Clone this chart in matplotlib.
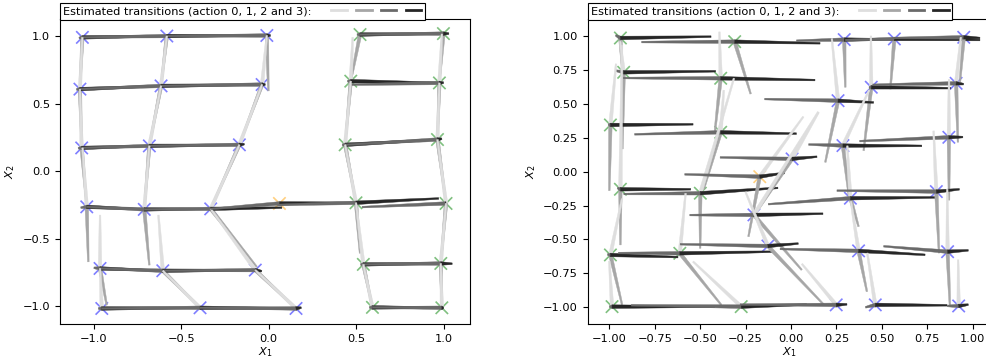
import matplotlib
matplotlib.use("Agg")
import matplotlib.pyplot as plt
from matplotlib.lines import Line2D
from matplotlib.legend_handler import HandlerTuple
from matplotlib.patches import Polygon
import numpy as np

plt.rcParams['font.family'] = ['DejaVu Sans']
plt.rcParams['font.size'] = 8.2

# ---------------- data: left panel ----------------
left_x = [-1.066, -0.583, -0.011, -1.080, -0.616, -0.038, -1.070, -0.683, -0.168,
          -1.041, -0.712, -0.332, -0.965, -0.606, -0.077, -0.955, -0.393, 0.156,
          0.061,
          0.522, 0.999, 0.469, 0.976, 0.437, 0.965, 0.499, 1.014, 0.541, 0.984, 0.593, 0.990]
left_y = [0.990, 1.000, 1.004, 0.607, 0.631, 0.641, 0.172, 0.187, 0.195,
          -0.264, -0.283, -0.279, -0.720, -0.737, -0.732, -1.016, -1.011, -1.016,
          -0.239,
          1.011, 1.018, 0.666, 0.653, 0.195, 0.234, -0.234, -0.239, -0.690, -0.683, -1.008, -1.011]
left_room = ['b'] * 18 + ['o'] + ['g'] * 12

# estimated next positions for action 0 (light), 1, 2, 3 (dark)
left_a0_x = [-1.066, -0.583, -0.011, -1.066, -0.583, -0.011, -1.080, -0.616, -0.038,
             -1.065, -0.683, -0.168, -0.965, -0.631, -0.332, -0.965, -0.606, -0.077,
             0.061,
             0.522, 0.999, 0.480, 0.990, 0.469, 0.976, 0.437, 0.965, 0.499, 1.014, 0.541, 0.984]
left_a0_y = [1.005, 1.012, 1.015, 0.990, 1.000, 1.004, 0.607, 0.631, 0.641,
             0.172, 0.187, 0.195, -0.325, -0.325, -0.279, -0.720, -0.737, -0.732,
             -0.225,
             1.025, 1.030, 0.990, 1.015, 0.666, 0.653, 0.195, 0.234, -0.234, -0.239, -0.690, -0.683]
left_a1_x = [-1.080, -0.616, -0.002, -1.070, -0.683, -0.168, -1.041, -0.712, -0.332,
             -1.032, -0.683, -0.069, -0.927, -0.393, 0.156, -0.955, -0.393, 0.156,
             0.061,
             0.469, 0.976, 0.437, 0.965, 0.499, 1.014, 0.522, 0.984, 0.593, 0.990, 0.593, 0.990]
left_a1_y = [0.607, 0.631, 0.594, 0.172, 0.187, 0.195, -0.264, -0.283, -0.279,
             -0.671, -0.695, -0.708, -0.991, -1.011, -1.016, -1.030, -1.025, -1.030,
             -0.255,
             0.666, 0.653, 0.195, 0.234, -0.234, -0.239, -0.607, -0.683, -1.008, -1.011, -1.025, -1.025]
left_a2_x = [-1.085, -1.066, -0.583, -1.100, -1.080, -0.616, -1.090, -1.070, -0.683,
             -1.075, -1.041, -0.712, -1.000, -0.965, -0.606, -0.975, -0.955, -0.393,
             -0.332,
             0.505, 0.522, 0.450, 0.475, 0.420, 0.437, 0.050, 0.534, 0.525, 0.541, 0.575, 0.593]
left_a2_y = [0.985, 0.990, 1.000, 0.605, 0.607, 0.631, 0.170, 0.172, 0.187,
             -0.270, -0.264, -0.283, -0.715, -0.720, -0.737, -1.016, -1.016, -1.011,
             -0.279,
             1.011, 1.011, 0.666, 0.640, 0.195, 0.195, -0.250, -0.266, -0.690, -0.690, -1.008, -1.008]
left_a3_x = [-0.583, -0.011, 0.010, -0.616, -0.038, -0.020, -0.683, -0.168, -0.140,
             -0.712, -0.332, 0.075, -0.606, -0.077, -0.040, -0.393, 0.156, 0.186,
             0.499,
             0.999, 1.030, 0.976, 1.000, 0.965, 0.990, 0.972, 1.010, 0.984, 1.049, 0.990, 1.000]
left_a3_y = [1.000, 1.004, 1.004, 0.631, 0.641, 0.641, 0.187, 0.195, 0.200,
             -0.283, -0.279, -0.270, -0.737, -0.732, -0.740, -1.011, -1.016, -1.010,
             -0.234,
             1.018, 1.018, 0.653, 0.655, 0.234, 0.240, -0.202, -0.240, -0.683, -0.685, -1.011, -1.011]

# ---------------- data: right panel ----------------
right_x = [-0.939, -0.310, -0.921, -0.387, -0.994, -0.387, -0.939, -0.499, -0.994, -0.612, -0.985, -0.274,
           -0.172,
           0.293, 0.569, 0.951, 0.442, 0.909, 0.259, 0.869, 0.286, 0.006, -0.204, -0.127,
           0.327, 0.800, 0.372, 0.862, 0.249, 0.464, 0.923]
right_y = [0.985, 0.958, 0.732, 0.688, 0.344, 0.290, -0.130, -0.159, -0.614, -0.602, -0.995, -0.995,
           -0.037,
           0.973, 0.978, 0.990, 0.622, 0.651, 0.523, 0.253, 0.192, 0.094, -0.319, -0.548,
           -0.196, -0.147, -0.584, -0.590, -0.982, -0.982, -0.990]
right_room = ['g'] * 12 + ['o'] + ['b'] * 18

right_a0_x = [-0.945, -0.315, -0.940, -0.394, -0.963, -0.370, -0.930, -0.314, -0.930, -0.580, -1.000, -0.539,
              0.068,
              0.293, 0.569, 0.951, 0.440, 0.935, 0.225, 0.870, 0.430, 0.152, 0.150, -0.250,
              0.310, 0.785, 0.330, 0.860, 0.060, 0.420, 0.920]
right_a0_y = [1.000, 0.975, 0.960, 1.030, 0.794, 0.600, 0.930, 0.688, -0.200, -0.160, -0.660, -0.663,
              0.405,
              0.990, 0.990, 1.000, 1.000, 0.990, 0.980, 0.680, 0.600, 0.437, 0.440, -0.150,
              0.190, 0.300, -0.220, -0.130, -0.680, -0.600, -0.650]
right_a1_x = [-0.928, -0.222, -0.928, -0.420, -1.000, -0.480, -0.939, -0.500, -0.930, -0.384, -0.980, -0.274,
              -0.234,
              0.299, 0.547, 0.930, 0.400, 0.919, 0.189, 0.870, 0.320, -0.180, 0.059, 0.180,
              0.372, 0.815, 0.418, 0.875, 0.249, 0.464, 0.923]
right_a1_y = [0.740, 0.573, 0.167, 0.280, -0.140, -0.130, -0.540, -0.565, -0.980, -0.982, -1.000, -1.000,
              -0.479,
              0.622, 0.609, 0.660, 0.155, 0.217, 0.069, -0.210, -0.190, -0.280, -0.724, -0.980,
              -0.405, -0.600, -0.884, -0.990, -1.000, -1.000, -1.000]
right_a2_x = [-0.965, -0.822, -0.967, -0.922, -1.005, -0.861, -0.955, -0.920, -1.010, -0.950, -1.000, -0.879,
              -0.585,
              0.030, 0.300, 0.560, 0.430, 0.450, -0.145, 0.378, 0.097, -0.390, -0.557, -0.610,
              -0.125, 0.253, -0.060, 0.510, -0.280, 0.410, 0.860]
right_a2_y = [1.005, 0.955, 0.745, 0.690, 0.350, 0.275, -0.120, -0.165, -0.610, -0.600, -0.995, -0.985,
              -0.020,
              0.965, 0.970, 0.985, 0.620, 0.640, 0.535, 0.225, 0.200, 0.105, -0.320, -0.535,
              -0.240, -0.140, -0.570, -0.550, -0.980, -1.000, -0.990]
right_a3_x = [-0.440, 0.160, -0.415, 0.132, -0.539, 0.030, -0.552, -0.072, -0.622, -0.100, -0.420, 0.086,
              -0.035,
              0.570, 1.040, 1.040, 0.880, 0.950, 0.455, 0.946, 0.720, 0.143, 0.176, 0.040,
              0.795, 0.927, 0.738, 0.976, 0.308, 0.859, 0.976]
right_a3_y = [0.995, 0.946, 0.740, 0.675, 0.349, 0.280, -0.130, -0.120, -0.630, -0.590, -0.995, -0.980,
              -0.010,
              0.975, 0.970, 0.985, 0.615, 0.645, 0.510, 0.255, 0.190, 0.110, -0.310, -0.530,
              -0.190, -0.130, -0.613, -0.580, -0.978, -0.985, -0.980]

action_colors = ['#dedede', '#a6a6a6', '#6a6a6a', '#262626']
room_colors = {'b': '#7f7fff', 'g': '#80c080', 'o': '#ffd080'}
legend_label = 'Estimated transitions (action 0, 1, 2 and 3):'

W_START, W_END = 3.6, 1.6   # wedge width in pixels at start / end of a transition


def draw_panel(ax, xs, ys, rooms, ends, xlim, ylim):
    ax.set_xlim(*xlim)
    ax.set_ylim(*ylim)
    cols = [room_colors[r] for r in rooms]
    ax.scatter(xs, ys, marker='x', s=80, c=cols, linewidths=1.2, zorder=1)
    tr = ax.transData
    z = 2.0
    for i in range(len(xs)):
        for a, (ex, ey) in enumerate(ends):
            p0 = tr.transform((xs[i], ys[i]))
            p1 = tr.transform((ex[i], ey[i]))
            d = p1 - p0
            L = np.hypot(*d)
            if L < 1e-6:
                continue
            n = np.array([-d[1], d[0]]) / L
            verts = np.array([p0 + n * W_START / 2, p1 + n * W_END / 2,
                              p1 - n * W_END / 2, p0 - n * W_START / 2])
            verts = tr.inverted().transform(verts)
            ax.add_patch(Polygon(verts, closed=True, facecolor=action_colors[a],
                                 edgecolor=action_colors[a], lw=0.3, zorder=z))
            z += 0.001
    ax.set_xlabel('$X_1$', labelpad=1)
    ax.set_ylabel('$X_2$', labelpad=4)
    handles = tuple(Line2D([], [], color=c, lw=2) for c in action_colors)
    ax_h = ax.get_position().height * 360
    leg = ax.legend([handles], [legend_label], handler_map={tuple: HandlerTuple(ndivide=None, pad=0.8)},
                    loc='upper left', bbox_to_anchor=(0.0, 1.0 + 16 / ax_h), borderaxespad=0,
                    markerfirst=False, handlelength=7.9, handletextpad=1.7, fancybox=False,
                    framealpha=1, edgecolor='black', fontsize=8.2, borderpad=0.3)
    leg.get_frame().set_linewidth(0.8)
    leg.set_zorder(10)


fig = plt.figure(figsize=(9.87, 3.6), dpi=100)
ax1 = fig.add_axes([60 / 987, 36 / 360, 410 / 987, 305 / 360])
ax2 = fig.add_axes([587.7 / 987, 36 / 360, (991 - 587.7) / 987, 305 / 360])

draw_panel(ax1, left_x, left_y, left_room,
           [(left_a0_x, left_a0_y), (left_a1_x, left_a1_y), (left_a2_x, left_a2_y), (left_a3_x, left_a3_y)],
           (-1.194, 1.151), (-1.131, 1.126))
ax1.set_xticks([-1.0, -0.5, 0.0, 0.5, 1.0])
ax1.set_yticks([-1.0, -0.5, 0.0, 0.5, 1.0])

draw_panel(ax2, right_x, right_y, right_room,
           [(right_a0_x, right_a0_y), (right_a1_x, right_a1_y), (right_a2_x, right_a2_y), (right_a3_x, right_a3_y)],
           (-1.119, 1.101), (-1.123, 1.125))
ax2.set_xticks(np.arange(-1.0, 1.01, 0.25))
ax2.set_yticks(np.arange(-1.0, 1.01, 0.25))

fig.savefig('out.png', dpi=100)
